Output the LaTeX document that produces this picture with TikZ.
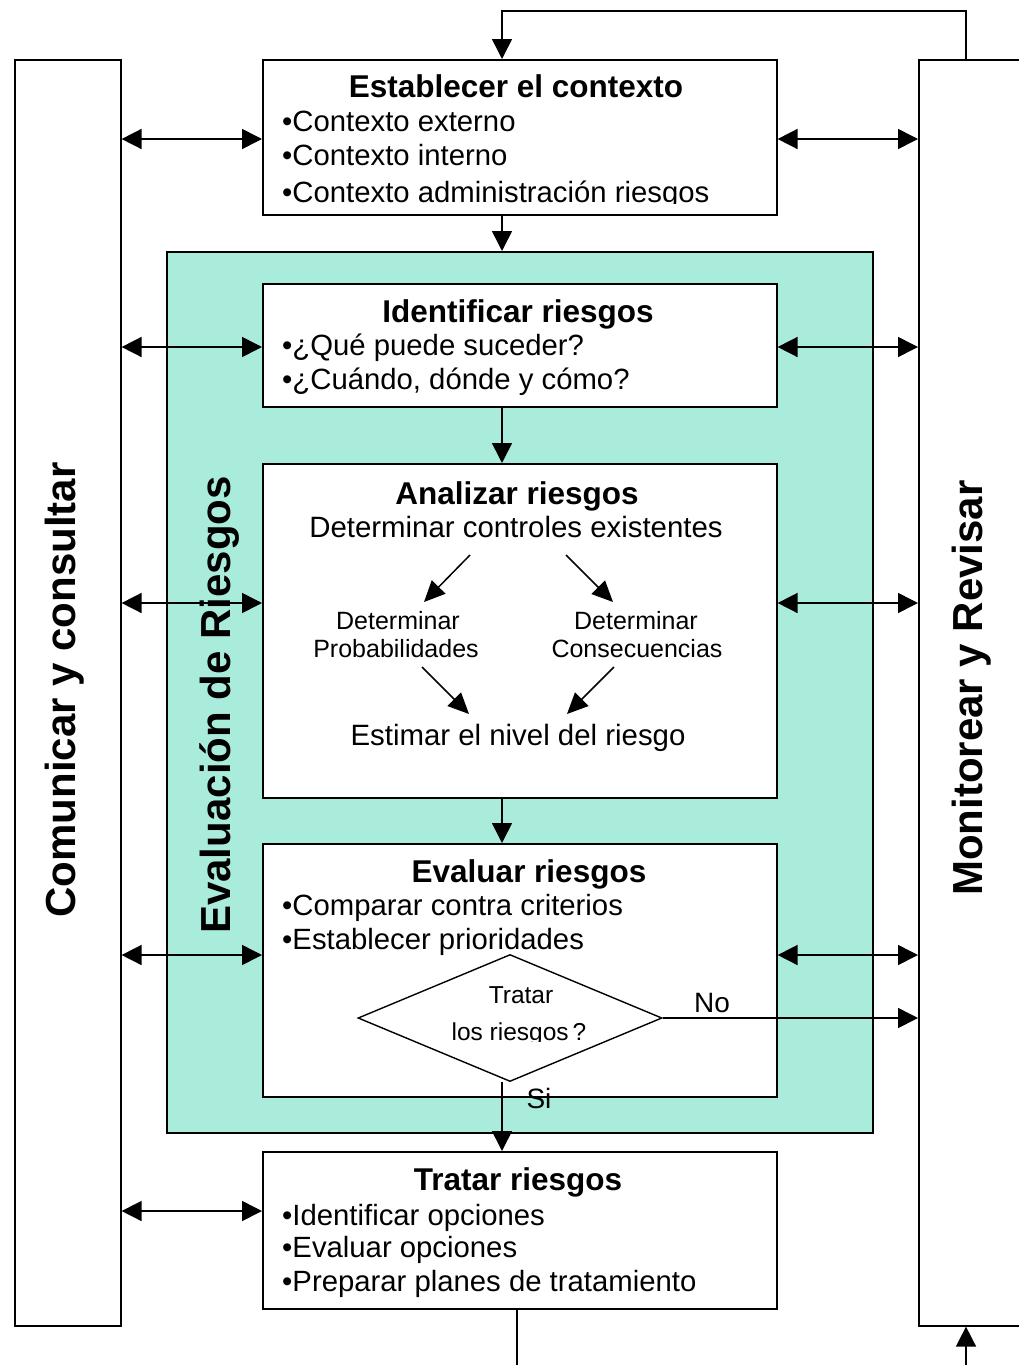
\documentclass[tikz,border=0pt]{standalone}
\usepackage{fontspec}
\setmainfont{Liberation Sans}
\usetikzlibrary{shapes.geometric,arrows.meta}
\definecolor{evalteal}{RGB}{170,236,220}
\begin{document}
\begin{tikzpicture}[x=1pt,y=-1pt,
  box/.style={draw,line width=1.6pt,fill=white,inner sep=0pt,anchor=north west},
  ttl/.style={font=\bfseries\fontsize{31.5}{36}\selectfont,anchor=base,inner sep=0pt},
  bul/.style={font=\fontsize{29.3}{34}\selectfont,anchor=base west,inner sep=0pt},
  mid/.style={font=\fontsize{29.4}{34}\selectfont,anchor=base,inner sep=0pt},
  sml/.style={font=\fontsize{25}{28}\selectfont,anchor=base,inner sep=0pt},
  side/.style={font=\bfseries\fontsize{42}{48}\selectfont,rotate=90,anchor=base,inner sep=0pt},
  arr/.style={-{Triangle[length=20pt,width=20pt]},line width=1.6pt},
  dbl/.style={{Triangle[length=20pt,width=20pt]}-{Triangle[length=20pt,width=20pt]},line width=1.6pt},
  sarr/.style={-{Triangle[length=21pt,width=19pt]},line width=1.5pt}
]
\useasboundingbox (0,0) rectangle (1019,1365);
\fill[white] (0,0) rectangle (1019,1365);

% side boxes
\node[box,minimum width=106pt,minimum height=1266pt] (left) at (14,59) {};
\node[box,minimum width=140pt,minimum height=1266pt] (right) at (918,59) {};
\node[side] (ltxt) at (75,690) {Comunicar y consultar};
\node[side] (rtxt) at (982,688) {Monitorear y Revisar};

% teal evaluation area
\node[box,fill=evalteal,minimum width=706pt,minimum height=881pt] (eva) at (166,251) {};
\node[side] (etxt) at (230,705) {Evaluación de Riesgos};

% context box
\node[box,minimum width=514pt,minimum height=155pt] (ctx) at (262,59) {};
\node[ttl] (ctxt) at (516,97) {Establecer el contexto};
\node[bul] (ctx1) at (282,131) {•Contexto externo};
\node[bul] (ctx2) at (282,165) {•Contexto interno};
\begin{scope}
\clip (262,180) rectangle (776,203);
\node[bul] (ctx3) at (282,202) {•Contexto administración riesgos};
\end{scope}

% identificar
\node[box,minimum width=514pt,minimum height=123pt] (ide) at (262,283) {};
\node[ttl] (idet) at (518,322) {Identificar riesgos};
\node[bul] (ide1) at (282,355) {•¿Qué puede suceder?};
\node[bul] (ide2) at (282,389) {•¿Cuándo, dónde y cómo?};

% analizar
\node[box,minimum width=514pt,minimum height=334pt] (ana) at (262,463) {};
\node[ttl] (anat) at (517,504) {Analizar riesgos};
\node[mid] (ana1) at (516,537) {Determinar controles existentes};
\node[sml] (pr1) at (398,629) {Determinar};
\node[sml] (pr2) at (396,657) {Probabilidades};
\node[sml] (co1) at (636,629) {Determinar};
\node[sml] (co2) at (637,657) {Consecuencias};
\node[mid] (est) at (518,745) {Estimar el nivel del riesgo};
\coordinate (a1s) at (470,555); \coordinate (a1e) at (424,602);
\coordinate (a2s) at (566,555); \coordinate (a2e) at (613,602);
\coordinate (a3s) at (422,667); \coordinate (a3e) at (469,714);
\coordinate (a4s) at (614,667); \coordinate (a4e) at (567,714);
\draw[sarr] (a1s) -- (a1e);
\draw[sarr] (a2s) -- (a2e);
\draw[sarr] (a3s) -- (a3e);
\draw[sarr] (a4s) -- (a4e);

% evaluar
\node[box,minimum width=514pt,minimum height=253pt] (evb) at (262,843) {};
\node[ttl] (evbt) at (529,882) {Evaluar riesgos};
\node[bul] (evb1) at (282,915) {•Comparar contra criterios};
\node[bul] (evb2) at (282,949) {•Establecer prioridades};
\node[draw,diamond,line width=1.4pt,fill=white,minimum width=304pt,minimum height=127pt,aspect=2.39,inner sep=0pt] (dia) at (510,1018) {};
\node[font=\fontsize{24.5}{28}\selectfont,anchor=base,inner sep=0pt] (dt1) at (521,1003) {Tratar};
\begin{scope}
\clip (400,1015) rectangle (620,1041);
\node[font=\fontsize{24.5}{28}\selectfont,anchor=base,inner sep=0pt] (dt2) at (519,1040) {los riesgos\kern4pt?};
\end{scope}
\node[font=\fontsize{28}{32}\selectfont,anchor=base,inner sep=0pt] (no) at (712,1012) {No};
\node[font=\fontsize{28}{32}\selectfont,anchor=base,inner sep=0pt] (si) at (539,1108) {Si};

% tratar
\node[box,minimum width=514pt,minimum height=157pt] (tra) at (262,1151) {};
\node[ttl] (trat) at (518,1190) {Tratar riesgos};
\node[bul] (tra1) at (282,1225) {•Identificar opciones};
\node[bul] (tra2) at (282,1257) {•Evaluar opciones};
\node[bul] (tra3) at (282,1291) {•Preparar planes de tratamiento};

% helper coordinates
\coordinate (x502) at (502,0);
\coordinate (x517) at (517,0);
\coordinate (x966) at (966,0);
\coordinate (ytop) at (0,11);
\coordinate (bot1) at (517,1380);
\coordinate (bot2) at (966,1380);

% vertical flow
\draw[arr] (ctx.south -| x502) -- (eva.north -| x502);
\draw[arr] (ide.south -| x502) -- (ana.north -| x502);
\draw[arr] (ana.south -| x502) -- (evb.north -| x502);
\draw[arr] (dia.south -| x502) -- (tra.north -| x502);
\draw[arr] (dia.east) -- (right.west |- dia.east);

% feedback loop on top
\draw[arr] (right.north -| x966) -- (x966 |- ytop) -- (x502 |- ytop) -- (ctx.north -| x502);
% bottom lines
\draw[line width=1.4pt] (tra.south -| x517) -- (bot1);
\draw[arr] (bot2) -- (right.south -| x966);

% double arrows left
\foreach \yy/\nn in {139/ctx,347/ide,603/ana,955/evb,1211/tra}{
  \draw[dbl] (left.east |- 0,\yy) -- (\nn.west |- 0,\yy);
}
% double arrows right
\foreach \yy/\nn in {139/ctx,347/ide,603/ana,955/evb}{
  \draw[dbl] (\nn.east |- 0,\yy) -- (right.west |- 0,\yy);
}
\end{tikzpicture}
\end{document}
